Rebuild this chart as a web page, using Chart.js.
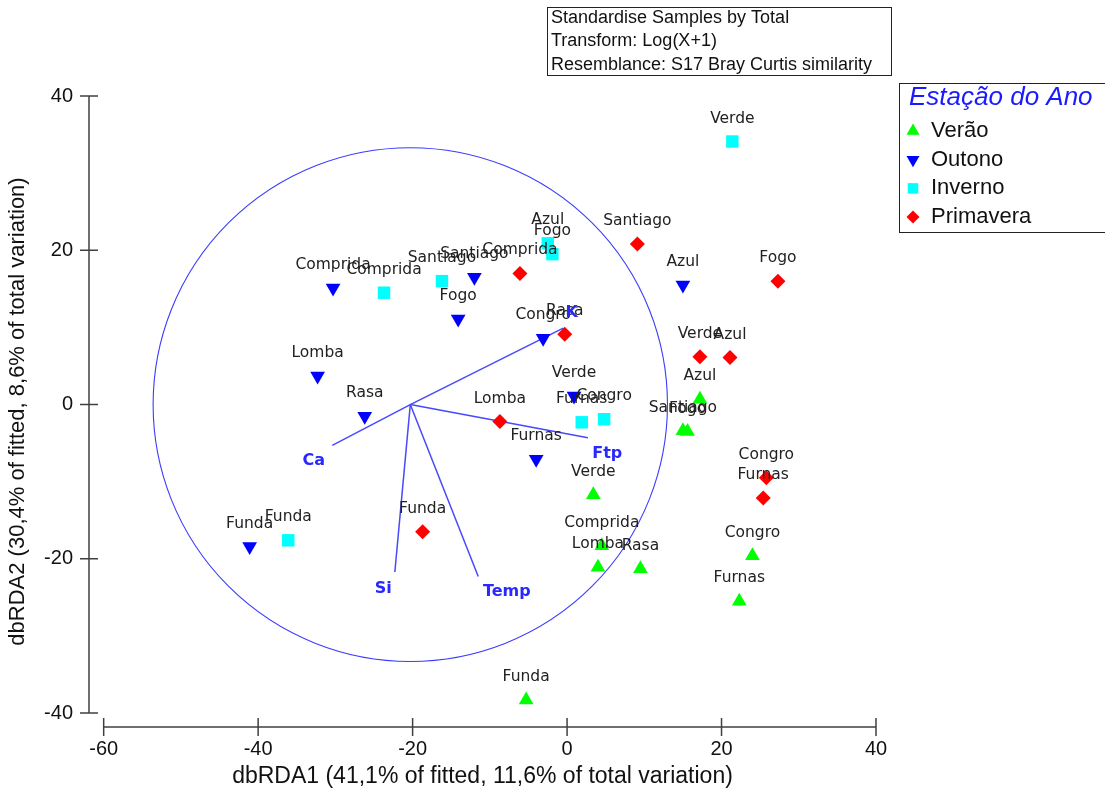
<!DOCTYPE html>
<html>
<head>
<meta charset="utf-8">
<title>dbRDA</title>
<script src="https://cdn.jsdelivr.net/npm/chart.js@4.4.1/dist/chart.umd.min.js"></script>
<style>
  html, body { margin: 0; padding: 0; background: #fff; }
  #wrap { width: 1105px; height: 794px; }
</style>
</head>
<body>
<div id="wrap"><canvas id="myChart" width="1105" height="794"></canvas></div>
<script>
// sites per season, coordinates on dbRDA1 / dbRDA2
const veraoNames = ['Azul', 'Santiago', 'Fogo', 'Verde', 'Comprida', 'Lomba', 'Rasa', 'Congro', 'Furnas', 'Funda']
const veraoX = [17.2, 15.0, 15.6, 3.4, 4.5, 4.0, 9.5, 24.0, 22.3, -5.3]
const veraoY = [0.7, -3.4, -3.5, -11.7, -18.3, -21.1, -21.3, -19.6, -25.5, -38.3]

const outonoNames = ['Comprida', 'Santiago', 'Fogo', 'Azul', 'Congro', 'Lomba', 'Rasa', 'Verde', 'Furnas', 'Funda']
const outonoX = [-30.3, -12.0, -14.1, 15.0, -3.1, -32.3, -26.2, 0.9, -4.0, -41.1]
const outonoY = [15.1, 16.5, 11.1, 15.5, 8.6, 3.7, -1.5, 1.1, -7.1, -18.4]

const invernoNames = ['Comprida', 'Santiago', 'Azul', 'Fogo', 'Verde', 'Furnas', 'Congro', 'Funda']
const invernoX = [-23.7, -16.2, -2.5, -1.9, 21.4, 1.9, 4.8, -36.1]
const invernoY = [14.5, 16.0, 20.9, 19.5, 34.1, -2.3, -1.9, -17.6]

const primaveraNames = ['Santiago', 'Comprida', 'Fogo', 'Rasa', 'Verde', 'Azul', 'Lomba', 'Congro', 'Furnas', 'Funda']
const primaveraX = [9.1, -6.1, 27.3, -0.3, 17.2, 21.1, -8.7, 25.8, 25.4, -18.7]
const primaveraY = [20.8, 17.0, 16.0, 9.1, 6.2, 6.1, -2.2, -9.5, -12.1, -16.5]

// environmental vectors (drawn from the circle centre)
const vecNames = ['K', 'Ca', 'Si', 'Temp', 'Ftp']
const vecOriginX = -20.3
const vecOriginY = 0
const vecEndX = [-0.5, -30.4, -22.3, -11.5, 2.7]
const vecEndY = [9.9, -5.3, -21.7, -22.3, -4.3]
const vecLabelX = [0.6, -32.8, -23.8, -7.8, 5.2]
const vecLabelY = [11.9, -7.3, -23.9, -24.3, -6.4]
const circleRadius = 33.3

const xTickValues = [-60, -40, -20, 0, 20, 40]
const yTickValues = [-40, -20, 0, 20, 40]

const seasonNames = ['Verão', 'Outono', 'Inverno', 'Primavera']
const infoLines = ['Standardise Samples by Total', 'Transform: Log(X+1)', 'Resemblance: S17 Bray Curtis similarity']

const xTitle = 'dbRDA1 (41,1% of fitted, 11,6% of total variation)'
const yTitle = 'dbRDA2 (30,4% of fitted, 8,6% of total variation)'

function toPoints(xs, ys) {
  return xs.map((x, i) => ({ x: x, y: ys[i] }))
}

const markerStyles = [
  { pointStyle: 'triangle', rotation: 0, radius: 8.5, color: '#00ff00' },
  { pointStyle: 'triangle', rotation: 180, radius: 8.5, color: '#0000ff' },
  { pointStyle: 'rect', rotation: 0, radius: 8.8, color: '#00ffff' },
  { pointStyle: 'rectRot', rotation: 0, radius: 7.5, color: '#ff0000' },
]

const siteSets = [
  [veraoX, veraoY, veraoNames],
  [outonoX, outonoY, outonoNames],
  [invernoX, invernoY, invernoNames],
  [primaveraX, primaveraY, primaveraNames],
]

const datasets = siteSets.map(([xs, ys, names], i) => {
  const m = markerStyles[i]
  return {
    label: seasonNames[i],
    data: toPoints(xs, ys),
    siteNames: names,
    pointStyle: m.pointStyle,
    rotation: m.rotation,
    pointRadius: m.radius,
    backgroundColor: m.color,
    borderColor: m.color,
    borderWidth: 0,
    order: 1,
  }
})

vecNames.forEach((name, i) => {
  datasets.push({
    label: name,
    data: [{ x: vecOriginX, y: vecOriginY }, { x: vecEndX[i], y: vecEndY[i] }],
    showLine: true,
    pointRadius: 0,
    borderColor: '#4848ff',
    borderWidth: 1.5,
    order: 5,
  })
})

function drawMarker(ctx, style, x, y, r) {
  ctx.beginPath()
  if (style === 'up') {
    ctx.moveTo(x, y - r)
    ctx.lineTo(x + r * 0.866, y + r * 0.5)
    ctx.lineTo(x - r * 0.866, y + r * 0.5)
  } else if (style === 'down') {
    ctx.moveTo(x, y + r)
    ctx.lineTo(x + r * 0.866, y - r * 0.5)
    ctx.lineTo(x - r * 0.866, y - r * 0.5)
  } else if (style === 'square') {
    ctx.rect(x - r * 0.7, y - r * 0.7, r * 1.4, r * 1.4)
  } else {
    ctx.moveTo(x, y - r)
    ctx.lineTo(x + r, y)
    ctx.lineTo(x, y + r)
    ctx.lineTo(x - r, y)
  }
  ctx.closePath()
  ctx.fill()
}

const decorations = {
  id: 'decorations',
  beforeDatasetsDraw(chart) {
    const ctx = chart.ctx
    const xs = chart.scales.x
    const ys = chart.scales.y
    const area = chart.chartArea

    // vector circle
    const cx = xs.getPixelForValue(vecOriginX)
    const cy = ys.getPixelForValue(vecOriginY)
    const rx = xs.getPixelForValue(vecOriginX + circleRadius) - cx
    const ry = cy - ys.getPixelForValue(vecOriginY + circleRadius)
    ctx.save()
    ctx.strokeStyle = '#3c3cff'
    ctx.lineWidth = 1.1
    ctx.beginPath()
    ctx.ellipse(cx, cy, rx, ry, 0, 0, Math.PI * 2)
    ctx.stroke()

    // axes with crossing ticks
    ctx.strokeStyle = '#404040'
    ctx.lineWidth = 1.5
    ctx.beginPath()
    const ax = area.left
    ctx.moveTo(ax, ys.getPixelForValue(yTickValues[yTickValues.length - 1]))
    ctx.lineTo(ax, ys.getPixelForValue(yTickValues[0]))
    yTickValues.forEach((v) => {
      const p = ys.getPixelForValue(v)
      ctx.moveTo(ax - 9, p)
      ctx.lineTo(ax + 9, p)
    })
    const ay = area.bottom
    ctx.moveTo(xs.getPixelForValue(xTickValues[0]), ay)
    ctx.lineTo(xs.getPixelForValue(xTickValues[xTickValues.length - 1]), ay)
    xTickValues.forEach((v) => {
      const p = xs.getPixelForValue(v)
      ctx.moveTo(p, ay - 9)
      ctx.lineTo(p, ay + 9)
    })
    ctx.stroke()
    ctx.restore()
  },
  afterDatasetsDraw(chart) {
    const ctx = chart.ctx
    const xs = chart.scales.x
    const ys = chart.scales.y
    ctx.save()
    ctx.textAlign = 'center'
    ctx.textBaseline = 'middle'

    // site names above markers
    ctx.font = '15.5px "DejaVu Sans"'
    ctx.fillStyle = '#222'
    chart.data.datasets.forEach((ds, i) => {
      if (!ds.siteNames) return
      chart.getDatasetMeta(i).data.forEach((pt, j) => {
        ctx.fillText(ds.siteNames[j], pt.x, pt.y - 23)
      })
    })

    // vector names
    ctx.font = 'bold 16px "DejaVu Sans"'
    ctx.fillStyle = '#2828ff'
    vecNames.forEach((name, i) => {
      ctx.fillText(name, xs.getPixelForValue(vecLabelX[i]), ys.getPixelForValue(vecLabelY[i]))
    })
    ctx.restore()
  },
  afterDraw(chart) {
    const ctx = chart.ctx
    ctx.save()

    // info box
    ctx.strokeStyle = '#222'
    ctx.lineWidth = 1
    ctx.strokeRect(547.5, 7.5, 344, 68)
    ctx.fillStyle = '#111'
    ctx.font = '18px "Liberation Sans"'
    ctx.textBaseline = 'middle'
    ctx.textAlign = 'left'
    infoLines.forEach((line, i) => {
      ctx.fillText(line, 551, 18 + i * 23.5)
    })

    // legend
    ctx.strokeStyle = '#222'
    ctx.strokeRect(899.5, 83.5, 220, 149)
    ctx.fillStyle = '#1a1aff'
    ctx.font = 'italic 26px "Liberation Sans"'
    ctx.fillText('Estação do Ano', 909, 98)
    const shapes = ['up', 'down', 'square', 'diamond']
    const sizes = [7.5, 7.5, 7.5, 6.5]
    ctx.font = '22px "Liberation Sans"'
    seasonNames.forEach((name, i) => {
      const y = 131 + i * 28.7
      ctx.fillStyle = markerStyles[i].color
      drawMarker(ctx, shapes[i], 913, y, sizes[i])
      ctx.fillStyle = '#111'
      ctx.fillText(name, 931, y)
    })
    ctx.restore()
  },
}

const tickFont = { family: '"Liberation Sans"', size: 20 }

new Chart(document.getElementById('myChart'), {
  type: 'scatter',
  data: { datasets },
  options: {
    responsive: false,
    animation: false,
    events: [],
    layout: { padding: { top: 96, right: 229, left: 0, bottom: 0 } },
    plugins: {
      legend: { display: false },
      tooltip: { enabled: false },
    },
    scales: {
      x: {
        type: 'linear',
        min: -61.9,
        max: 40,
        grid: { display: false, drawTicks: false },
        border: { display: false },
        afterBuildTicks: (scale) => { scale.ticks = xTickValues.map((v) => ({ value: v })) },
        afterFit: (scale) => { scale.height = 67 },
        ticks: { font: tickFont, color: '#111', padding: 10.5, maxRotation: 0 },
        title: { display: true, text: xTitle, font: { family: '"Liberation Sans"', size: 23 }, color: '#111', padding: { top: 0, bottom: 4 } },
      },
      y: {
        type: 'linear',
        min: -41.8,
        max: 40,
        grid: { display: false, drawTicks: false },
        border: { display: false },
        afterBuildTicks: (scale) => { scale.ticks = yTickValues.map((v) => ({ value: v })) },
        afterFit: (scale) => { scale.width = 89 },
        ticks: { font: tickFont, color: '#111', padding: 16 },
        title: { display: true, text: yTitle, font: { family: '"Liberation Sans"', size: 22 }, color: '#111', padding: { top: 5, bottom: 0 } },
      },
    },
  },
  plugins: [decorations],
})
</script>
</body>
</html>
